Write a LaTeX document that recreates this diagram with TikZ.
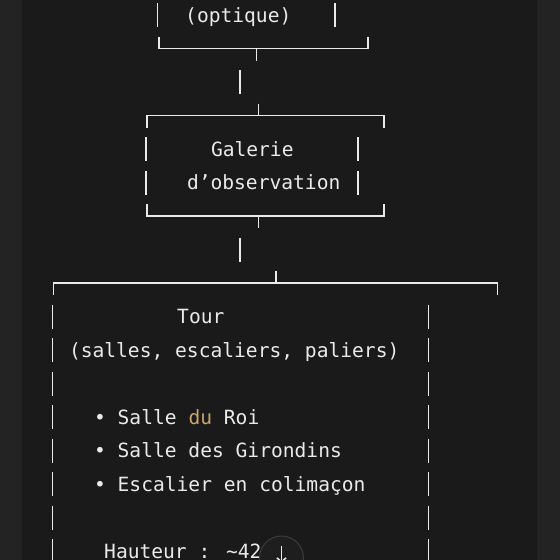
\documentclass[tikz,border=0pt]{standalone}
\usepackage{fontspec}
\newfontfamily\codefont{DejaVu Sans Mono}
\usetikzlibrary{arrows.meta}

\definecolor{outerbg}{HTML}{232323}
\definecolor{panelbg}{HTML}{1A1A1A}
\definecolor{ink}{HTML}{EAEAEA}
\definecolor{kwtan}{HTML}{C9A46E}
\definecolor{btnfill}{HTML}{1E1E1E}
\definecolor{btnring}{HTML}{3C3C3C}

\tikzset{
  code/.style={font=\codefont\fontsize{19.6}{23}\selectfont, text=ink, anchor=base west, inner sep=0pt},
  rule/.style={draw=ink, line width=1.6pt},
}

\begin{document}
\begin{tikzpicture}[x=1pt,y=-1pt]
    \fill[outerbg] (0,0) rectangle (560,560);
    \fill[panelbg] (22,0) rectangle (537,560);
    \useasboundingbox (0,0) rectangle (560,560);

    % box (optique), only its last rows show
    \draw[rule] (157.5,3) -- (157.5,27);
    \draw[rule] (335,3) -- (335,27);
    \node[code] (optique) at (185,22) {(optique)};
    \draw[rule] (159,36.5) -- (159,48.5) -- (368,48.5) -- (368,36.5);
    \draw[rule] (256.5,48.5) -- (256.5,60.5);
    \draw[rule] (240,70) -- (240,94);

    % galerie
    \draw[rule] (258.5,103.5) -- (258.5,115.5);
    \draw[rule] (147,127.5) -- (147,115.5) -- (384,115.5) -- (384,127.5);
    \foreach \k in {4,5} {
        \draw[rule] (146,{15+33.5*\k-12}) -- ++(0,24);
        \draw[rule] (358,{15+33.5*\k-12}) -- ++(0,24);
    }
    \node[code] (galerie) at (210.8,156) {Galerie};
    \node[code] (observation) at (186.8,189.5) {d’observation};
    \draw[rule] (147,204) -- (147,216) -- (384,216) -- (384,204);
    \draw[rule] (258.5,216) -- (258.5,228);
    \draw[rule] (240,237.5) -- (240,261.5);

    % tour
    \draw[rule] (275.7,271) -- (275.7,283);
    \draw[rule] (53.5,295) -- (53.5,283) -- (497.5,283) -- (497.5,295);
    \foreach \k in {9,...,16} {
        \draw[rule] (52.5,{15+33.5*\k-12}) -- ++(0,24);
        \draw[rule] (428.6,{15+33.5*\k-12}) -- ++(0,24);
    }
    \node[code] (tour) at (177,323.5) {Tour};
    \node[code] (salles) at (68.8,357) {(salles, escaliers, paliers)};
    \node[code] (roi) at (93.9,424) {• Salle \textcolor{kwtan}{du} Roi};
    \node[code] (girondins) at (93.9,457.5) {• Salle des Girondins};
    \node[code] (escalier) at (93.9,491) {• Escalier en colimaçon};
    \node[code] (hauteur) at (104,558) {Hauteur : \char`\~42};

    % scroll button
    \draw[fill=btnfill, draw=btnring, line width=1pt] (281.5,558) circle (22);
    \draw[ink, line width=1.6pt, -{Straight Barb[length=4pt,width=9pt]}] (281.5,546) -- (281.5,563);
\end{tikzpicture}
\end{document}
